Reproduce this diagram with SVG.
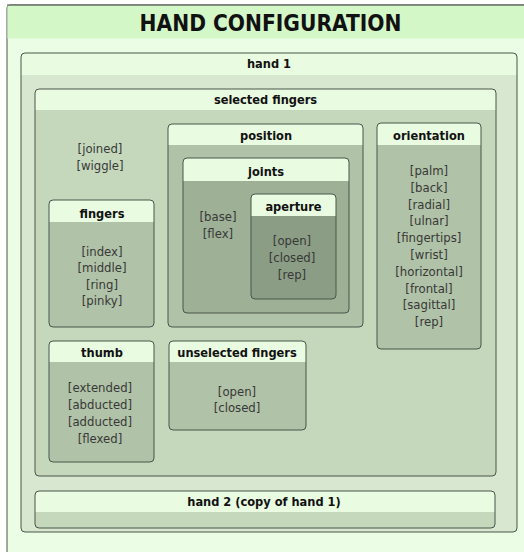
<svg xmlns="http://www.w3.org/2000/svg" width="524" height="552" viewBox="0 0 524 552">
  <style>
    .frame { stroke: #4b544b; stroke-width: 1; }
    .head { fill: #e9fbe1; }
    .ttl { font-family: "DejaVu Sans Condensed", "DejaVu Sans", sans-serif; font-weight: bold; fill: #111; text-anchor: middle; }
    .t13 { font-size: 12.7px; }
    .item { font-family: "DejaVu Sans Condensed", "DejaVu Sans", sans-serif; font-size: 13px; fill: #383838; text-anchor: middle; }
  </style>
  <defs>
    <clipPath id="clip-hand1"><rect x="21" y="53" width="496" height="479" rx="4"/></clipPath>
    <clipPath id="clip-sel"><rect x="35" y="89" width="461" height="387" rx="4"/></clipPath>
    <clipPath id="clip-hand2"><rect x="35" y="491" width="460" height="37" rx="4"/></clipPath>
    <clipPath id="clip-fingers"><rect x="49" y="200" width="105" height="127" rx="4"/></clipPath>
    <clipPath id="clip-position"><rect x="168" y="124" width="195" height="203" rx="4"/></clipPath>
    <clipPath id="clip-joints"><rect x="183" y="158" width="166" height="155" rx="4"/></clipPath>
    <clipPath id="clip-aperture"><rect x="251" y="194" width="85" height="105" rx="4"/></clipPath>
    <clipPath id="clip-orientation"><rect x="377" y="123" width="104" height="226" rx="4"/></clipPath>
    <clipPath id="clip-thumb"><rect x="49" y="341" width="105" height="121" rx="4"/></clipPath>
    <clipPath id="clip-unselected"><rect x="169" y="341" width="137" height="89" rx="4"/></clipPath>
  </defs>

  <!-- page background -->
  <rect x="0" y="0" width="524" height="552" fill="#ffffff"/>

  <!-- outer frame with title band -->
  <g id="hand-configuration">
    <rect x="7" y="5" width="540" height="570" rx="3" fill="#ebfde4" class="frame" stroke="#555"/>
    <rect x="7.5" y="5.5" width="540" height="33" fill="#d4f7c8"/>
    <line x1="7" y1="5" x2="540" y2="5" stroke="#555"/>
    <text x="270.5" y="30.5" class="ttl" font-size="22.5px">HAND CONFIGURATION</text>
  </g>

  <!-- hand 1 -->
  <g id="hand1">
    <g clip-path="url(#clip-hand1)">
      <rect x="21" y="53" width="496" height="479" fill="#d8e7cf"/>
      <rect x="21" y="53" width="496" height="22" class="head"/>
    </g>
    <rect x="21" y="53" width="496" height="479" rx="4" fill="none" class="frame"/>
    <text x="269" y="68" class="ttl t13">hand 1</text>
  </g>

  <!-- selected fingers -->
  <g id="selected-fingers">
    <g clip-path="url(#clip-sel)">
      <rect x="35" y="89" width="461" height="387" fill="#c5d8bc"/>
      <rect x="35" y="89" width="461" height="21" class="head"/>
    </g>
    <rect x="35" y="89" width="461" height="387" rx="4" fill="none" class="frame"/>
    <text x="265.5" y="104" class="ttl t13">selected fingers</text>
    <text x="100" y="152.5" class="item">[joined]</text>
    <text x="100" y="169.5" class="item">[wiggle]</text>
  </g>

  <!-- fingers -->
  <g id="fingers">
    <g clip-path="url(#clip-fingers)">
      <rect x="49" y="200" width="105" height="127" fill="#b0c2a7"/>
      <rect x="49" y="200" width="105" height="22" class="head"/>
    </g>
    <rect x="49" y="200" width="105" height="127" rx="4" fill="none" class="frame"/>
    <text x="102" y="217.5" class="ttl t13">fingers</text>
    <text x="102" y="255.5" class="item">[index]</text>
    <text x="102" y="272" class="item">[middle]</text>
    <text x="102" y="288.5" class="item">[ring]</text>
    <text x="102" y="305" class="item">[pinky]</text>
  </g>

  <!-- position -->
  <g id="position">
    <g clip-path="url(#clip-position)">
      <rect x="168" y="124" width="195" height="203" fill="#b0c2a7"/>
      <rect x="168" y="124" width="195" height="21" class="head"/>
    </g>
    <rect x="168" y="124" width="195" height="203" rx="4" fill="none" class="frame"/>
    <text x="266" y="139.5" class="ttl t13">position</text>
  </g>

  <!-- joints -->
  <g id="joints">
    <g clip-path="url(#clip-joints)">
      <rect x="183" y="158" width="166" height="155" fill="#9eb096"/>
      <rect x="183" y="158" width="166" height="23" class="head"/>
    </g>
    <rect x="183" y="158" width="166" height="155" rx="4" fill="none" class="frame"/>
    <text x="266" y="175.5" class="ttl t13">joints</text>
    <text x="218" y="221" class="item">[base]</text>
    <text x="218" y="238" class="item">[flex]</text>
  </g>

  <!-- aperture -->
  <g id="aperture">
    <g clip-path="url(#clip-aperture)">
      <rect x="251" y="194" width="85" height="105" fill="#8b9d84"/>
      <rect x="251" y="194" width="85" height="22" class="head"/>
    </g>
    <rect x="251" y="194" width="85" height="105" rx="4" fill="none" class="frame"/>
    <text x="293.5" y="210.5" class="ttl t13">aperture</text>
    <text x="292" y="245" class="item">[open]</text>
    <text x="292" y="262" class="item">[closed]</text>
    <text x="292" y="279" class="item">[rep]</text>
  </g>

  <!-- orientation -->
  <g id="orientation">
    <g clip-path="url(#clip-orientation)">
      <rect x="377" y="123" width="104" height="226" fill="#b0c2a7"/>
      <rect x="377" y="123" width="104" height="22" class="head"/>
    </g>
    <rect x="377" y="123" width="104" height="226" rx="4" fill="none" class="frame"/>
    <text x="429" y="139.5" class="ttl t13">orientation</text>
    <text x="429" y="175" class="item">[palm]</text>
    <text x="429" y="191.8" class="item">[back]</text>
    <text x="429" y="208.6" class="item">[radial]</text>
    <text x="429" y="225.4" class="item">[ulnar]</text>
    <text x="429" y="242.2" class="item">[fingertips]</text>
    <text x="429" y="259" class="item">[wrist]</text>
    <text x="429" y="275.8" class="item">[horizontal]</text>
    <text x="429" y="292.6" class="item">[frontal]</text>
    <text x="429" y="309.4" class="item">[sagittal]</text>
    <text x="429" y="326.2" class="item">[rep]</text>
  </g>

  <!-- thumb -->
  <g id="thumb">
    <g clip-path="url(#clip-thumb)">
      <rect x="49" y="341" width="105" height="121" fill="#b0c2a7"/>
      <rect x="49" y="341" width="105" height="21" class="head"/>
    </g>
    <rect x="49" y="341" width="105" height="121" rx="4" fill="none" class="frame"/>
    <text x="102" y="357" class="ttl t13">thumb</text>
    <text x="100" y="392" class="item">[extended]</text>
    <text x="100" y="409" class="item">[abducted]</text>
    <text x="100" y="426" class="item">[adducted]</text>
    <text x="100" y="443" class="item">[flexed]</text>
  </g>

  <!-- unselected fingers -->
  <g id="unselected-fingers">
    <g clip-path="url(#clip-unselected)">
      <rect x="169" y="341" width="137" height="89" fill="#b0c2a7"/>
      <rect x="169" y="341" width="137" height="21" class="head"/>
    </g>
    <rect x="169" y="341" width="137" height="89" rx="4" fill="none" class="frame"/>
    <text x="237" y="356.5" class="ttl t13">unselected fingers</text>
    <text x="237" y="395.5" class="item">[open]</text>
    <text x="237" y="411.5" class="item">[closed]</text>
  </g>

  <!-- hand 2 -->
  <g id="hand2">
    <g clip-path="url(#clip-hand2)">
      <rect x="35" y="491" width="460" height="37" fill="#c5d8bc"/>
      <rect x="35" y="491" width="460" height="21" class="head"/>
    </g>
    <rect x="35" y="491" width="460" height="37" rx="4" fill="none" class="frame"/>
    <text x="264" y="505.5" class="ttl t13">hand 2 (copy of hand 1)</text>
  </g>

  <!-- no connectors in this diagram -->
  <g id="connectors"/>
</svg>
